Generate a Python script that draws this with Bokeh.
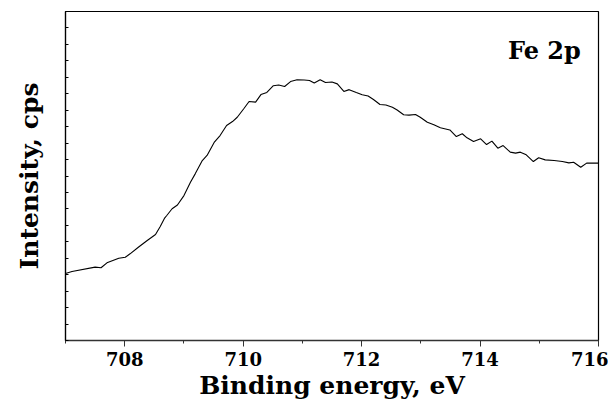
from bokeh.plotting import figure
from bokeh.models import Range1d, FixedTicker, CustomJSTickFormatter, Label
from bokeh.embed import file_html
from bokeh.resources import INLINE

# Binding energy (eV) and intensity (arbitrary units, cps)
energy = [707.00, 707.11, 707.50, 707.60, 707.70, 707.90, 708.01, 708.09, 708.23, 708.38,
          708.52, 708.60, 708.67, 708.71, 708.80, 708.89, 709.00, 709.11, 709.19, 709.31,
          709.39, 709.51, 709.61, 709.72, 709.82, 709.90, 710.01, 710.10, 710.21, 710.30,
          710.40, 710.51, 710.60, 710.70, 710.80, 710.91, 711.03, 711.12, 711.20, 711.30,
          711.39, 711.50, 711.59, 711.70, 711.79, 711.91, 712.01, 712.11, 712.20, 712.31,
          712.41, 712.52, 712.60, 712.71, 712.80, 712.91, 712.99, 713.11, 713.22, 713.33,
          713.49, 713.60, 713.70, 713.78, 713.89, 714.01, 714.11, 714.20, 714.30, 714.39,
          714.51, 714.60, 714.68, 714.78, 714.90, 714.99, 715.10, 715.25, 715.39, 715.50,
          715.58, 715.70, 715.80, 715.89, 716.00]
intensity = [4.07, 4.19, 4.46, 4.42, 4.72, 5.00, 5.06, 5.27, 5.67, 6.08,
             6.44, 6.93, 7.42, 7.60, 8.01, 8.24, 8.81, 9.62, 10.13, 10.94,
             11.25, 12.04, 12.46, 13.07, 13.31, 13.57, 14.09, 14.53, 14.49, 14.95,
             15.08, 15.49, 15.53, 15.44, 15.74, 15.85, 15.84, 15.81, 15.65, 15.85,
             15.68, 15.71, 15.60, 15.14, 15.25, 15.08, 14.94, 14.86, 14.65, 14.35,
             14.32, 14.18, 14.01, 13.72, 13.70, 13.74, 13.57, 13.27, 13.11, 12.93,
             12.80, 12.40, 12.57, 12.32, 12.10, 12.26, 11.91, 12.12, 11.69, 11.85,
             11.45, 11.39, 11.45, 11.29, 10.88, 11.11, 10.98, 10.94, 10.88, 10.80,
             10.84, 10.53, 10.78, 10.78, 10.78]

x_ticks = [708, 710, 712, 714, 716]
x_minor = [707, 709, 711, 713, 715]
y_ticks = list(range(0, 21))
label_text = "Fe 2p"
x_title = "Binding energy, eV"
y_title = "Intensity, cps"

FONT = "DejaVu Serif"

p = figure(width=608, height=402, output_backend="svg", toolbar_location=None,
           x_range=Range1d(707, 716), y_range=Range1d(0, 20),
           min_border_left=65, min_border_right=10, min_border_top=11, min_border_bottom=62)
p.background_fill_color = "white"
p.border_fill_color = "white"
p.outline_line_color = "black"
p.outline_line_width = 1.2
p.grid.visible = False

p.line(energy, intensity, line_color="black", line_width=1.1)

# x axis
p.xaxis.ticker = FixedTicker(ticks=x_ticks, minor_ticks=x_minor)
p.xaxis.major_tick_in = 0
p.xaxis.major_tick_out = 6
p.xaxis.minor_tick_in = 0
p.xaxis.minor_tick_out = 3
p.xaxis.axis_line_color = "#333333"
p.xaxis.axis_line_width = 1.5
p.xaxis.major_tick_line_color = "#333333"
p.xaxis.minor_tick_line_color = "#333333"
p.xaxis.major_label_text_font = FONT
p.xaxis.major_label_text_font_style = "bold"
p.xaxis.major_label_text_font_size = "18px"
p.xaxis.major_label_text_color = "black"
p.xaxis.major_label_standoff = 5
p.xaxis.axis_label = x_title
p.xaxis.axis_label_text_font = FONT
p.xaxis.axis_label_text_font_style = "bold"
p.xaxis.axis_label_text_font_size = "25px"
p.xaxis.axis_label_text_color = "black"
p.xaxis.axis_label_standoff = 2

# y axis
p.yaxis.ticker = FixedTicker(ticks=y_ticks, minor_ticks=[])
p.yaxis.formatter = CustomJSTickFormatter(code="return ''")
p.yaxis.major_tick_in = 3
p.yaxis.major_tick_out = 0
p.yaxis.minor_tick_in = 0
p.yaxis.minor_tick_out = 0
p.yaxis.axis_line_color = "black"
p.yaxis.axis_line_width = 1.2
p.yaxis.major_tick_line_color = "black"
p.yaxis.major_label_standoff = 0
p.yaxis.axis_label = y_title
p.yaxis.axis_label_text_font = FONT
p.yaxis.axis_label_text_font_style = "bold"
p.yaxis.axis_label_text_font_size = "25px"
p.yaxis.axis_label_text_color = "black"
p.yaxis.axis_label_standoff = 22

lab = Label(x=715.7, y=17.63, text=label_text, text_font=FONT, text_font_style="bold",
            text_font_size="24px", text_align="right", text_baseline="alphabetic",
            text_color="black")
p.add_layout(lab)

open("out.html", "w").write(file_html(p, INLINE))
